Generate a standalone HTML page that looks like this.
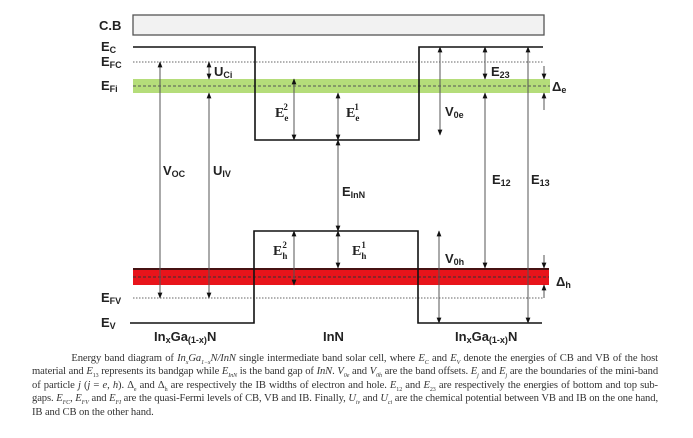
<!DOCTYPE html>
<html><head><style>
body{margin:0;background:#fff;width:693px;height:438px;overflow:hidden}
svg{position:absolute;left:0;top:0}
.l{font-family:"Liberation Sans",sans-serif;font-weight:bold;fill:#222}
.cap{position:absolute;left:32px;top:352px;width:626px;font-family:"Liberation Serif",serif;font-size:10.6px;line-height:13.4px;color:#333;text-align:justify;letter-spacing:-0.1px}
.cap sub{font-size:6px;line-height:0}
</style></head><body>
<svg width="693" height="345" viewBox="0 0 693 345">
<defs>
<marker id="a" viewBox="0 0 10 10" refX="9" refY="5" markerWidth="6" markerHeight="6" orient="auto-start-reverse"><path d="M0,1 L10,5 L0,9 z" fill="#111"/></marker>
</defs>
<rect x="133" y="15" width="411" height="20" fill="#f2f2f2" stroke="#555" stroke-width="1.3"/>
<rect x="133" y="79" width="417" height="14" fill="#b5dd7a"/>
<line x1="133" y1="86" x2="550" y2="86" stroke="#555" stroke-dasharray="3,2"/>
<rect x="133" y="268" width="416" height="17" fill="#e8141b"/>
<line x1="133" y1="269" x2="549" y2="269" stroke="#111" stroke-width="1.5"/>
<line x1="133" y1="277" x2="549" y2="277" stroke="#333" stroke-dasharray="3,2"/>
<line x1="133" y1="62" x2="543" y2="62" stroke="#666" stroke-dasharray="1.5,1.5"/>
<line x1="133" y1="298" x2="543" y2="298" stroke="#666" stroke-dasharray="1.5,1.5"/>
<polyline points="133,47 255,47 255,140 419,140 419,47 543,47" fill="none" stroke="#111" stroke-width="1.6"/>
<polyline points="130,323 254,323 254,231 418,231 418,323 542,323" fill="none" stroke="#111" stroke-width="1.6"/>
<g stroke="#555" stroke-width="1" fill="none">
<line x1="160" y1="62" x2="160" y2="298" marker-start="url(#a)" marker-end="url(#a)"/>
<line x1="209" y1="93" x2="209" y2="298" marker-start="url(#a)" marker-end="url(#a)"/>
<line x1="209" y1="62" x2="209" y2="79" marker-start="url(#a)" marker-end="url(#a)"/>
<line x1="294" y1="79" x2="294" y2="140" marker-start="url(#a)" marker-end="url(#a)"/>
<line x1="338" y1="93" x2="338" y2="140" marker-start="url(#a)" marker-end="url(#a)"/>
<line x1="338" y1="140" x2="338" y2="231" marker-start="url(#a)" marker-end="url(#a)"/>
<line x1="338" y1="231" x2="338" y2="268" marker-start="url(#a)" marker-end="url(#a)"/>
<line x1="294" y1="231" x2="294" y2="285" marker-start="url(#a)" marker-end="url(#a)"/>
<line x1="440" y1="47" x2="440" y2="135" marker-start="url(#a)" marker-end="url(#a)"/>
<line x1="485" y1="47" x2="485" y2="79" marker-start="url(#a)" marker-end="url(#a)"/>
<line x1="485" y1="93" x2="485" y2="268" marker-start="url(#a)" marker-end="url(#a)"/>
<line x1="528" y1="47" x2="528" y2="323" marker-start="url(#a)" marker-end="url(#a)"/>
<line x1="439" y1="231" x2="439" y2="323" marker-start="url(#a)" marker-end="url(#a)"/>
<line x1="544" y1="66" x2="544" y2="79" marker-end="url(#a)"/>
<line x1="544" y1="110" x2="544" y2="93" marker-end="url(#a)"/>
<line x1="544" y1="255" x2="544" y2="268" marker-end="url(#a)"/>
<line x1="544" y1="298" x2="544" y2="285" marker-end="url(#a)"/>
</g>
<g class="l" font-size="13">
<text x="99" y="30">C.B</text>
<text x="101" y="51">E<tspan font-size="9" dy="2">C</tspan></text>
<text x="101" y="66">E<tspan font-size="9" dy="2">FC</tspan></text>
<text x="101" y="90">E<tspan font-size="9" dy="2">Fi</tspan></text>
<text x="101" y="302">E<tspan font-size="9" dy="2">FV</tspan></text>
<text x="101" y="327">E<tspan font-size="9" dy="2">V</tspan></text>
<text x="214" y="76">U<tspan font-size="9" dy="2">Ci</tspan></text>
<text x="163" y="175">V<tspan font-size="9" dy="2">OC</tspan></text>
<text x="213" y="175">U<tspan font-size="9" dy="2">IV</tspan></text>
<text x="342" y="196">E<tspan font-size="9" dy="2">InN</tspan></text>
<text x="492" y="184">E<tspan font-size="9" dy="2">12</tspan></text>
<text x="531" y="184">E<tspan font-size="9" dy="2">13</tspan></text>
<text x="491" y="76">E<tspan font-size="9" dy="2">23</tspan></text>
<text x="445" y="116">V<tspan font-size="9" dy="2">0e</tspan></text>
<text x="445" y="263">V<tspan font-size="9" dy="2">0h</tspan></text>
<text x="552" y="91">Δ<tspan font-size="9" dy="2">e</tspan></text>
<text x="556" y="286">Δ<tspan font-size="9" dy="2">h</tspan></text>
<text x="154" y="341">In<tspan font-size="9" dy="2">x</tspan><tspan dy="-2">Ga</tspan><tspan font-size="9" dy="2">(1-x)</tspan><tspan dy="-2">N</tspan></text>
<text x="323" y="341">InN</text>
<text x="455" y="341">In<tspan font-size="9" dy="2">x</tspan><tspan dy="-2">Ga</tspan><tspan font-size="9" dy="2">(1-x)</tspan><tspan dy="-2">N</tspan></text>
</g>
<g font-family="Liberation Serif,serif" font-weight="bold" fill="#222" font-size="14">
<text x="275" y="117">E<tspan font-size="9" dy="4">e</tspan><tspan font-size="9" dx="-5" dy="-11">2</tspan></text>
<text x="346" y="117">E<tspan font-size="9" dy="4">e</tspan><tspan font-size="9" dx="-5" dy="-11">1</tspan></text>
<text x="273" y="255">E<tspan font-size="9" dy="4">h</tspan><tspan font-size="9" dx="-5" dy="-11">2</tspan></text>
<text x="352" y="255">E<tspan font-size="9" dy="4">h</tspan><tspan font-size="9" dx="-5" dy="-11">1</tspan></text>
</g>
</svg>
<div class="cap">&nbsp;&nbsp;&nbsp;&nbsp;&nbsp;&nbsp;&nbsp;&nbsp;&nbsp;&nbsp;&nbsp;&nbsp;Energy band diagram of <i>In<sub>x</sub>Ga<sub>1−x</sub>N/InN</i> single intermediate band solar cell, where <i>E<sub>C</sub></i> and <i>E<sub>V</sub></i> denote the energies of CB and VB of the host material and <i>E</i><sub>13</sub> represents its bandgap while <i>E<sub>InN</sub></i> is the band gap of <i>InN</i>. <i>V<sub>0e</sub></i> and <i>V<sub>0h</sub></i> are the band offsets. <i>E<sub>j</sub></i> and <i>E<sub>j</sub></i> are the boundaries of the mini-band of particle <i>j</i> (<i>j</i> = <i>e</i>, <i>h</i>). Δ<sub>e</sub> and Δ<sub>h</sub> are respectively the IB widths of electron and hole. <i>E</i><sub>12</sub> and <i>E</i><sub>23</sub> are respectively the energies of bottom and top sub-gaps. <i>E<sub>FC</sub></i>, <i>E<sub>FV</sub></i> and <i>E<sub>FI</sub></i> are the quasi-Fermi levels of CB, VB and IB. Finally, <i>U<sub>iv</sub></i> and <i>U<sub>ci</sub></i> are the chemical potential between VB and IB on the one hand, IB and CB on the other hand.</div>
</body></html>
